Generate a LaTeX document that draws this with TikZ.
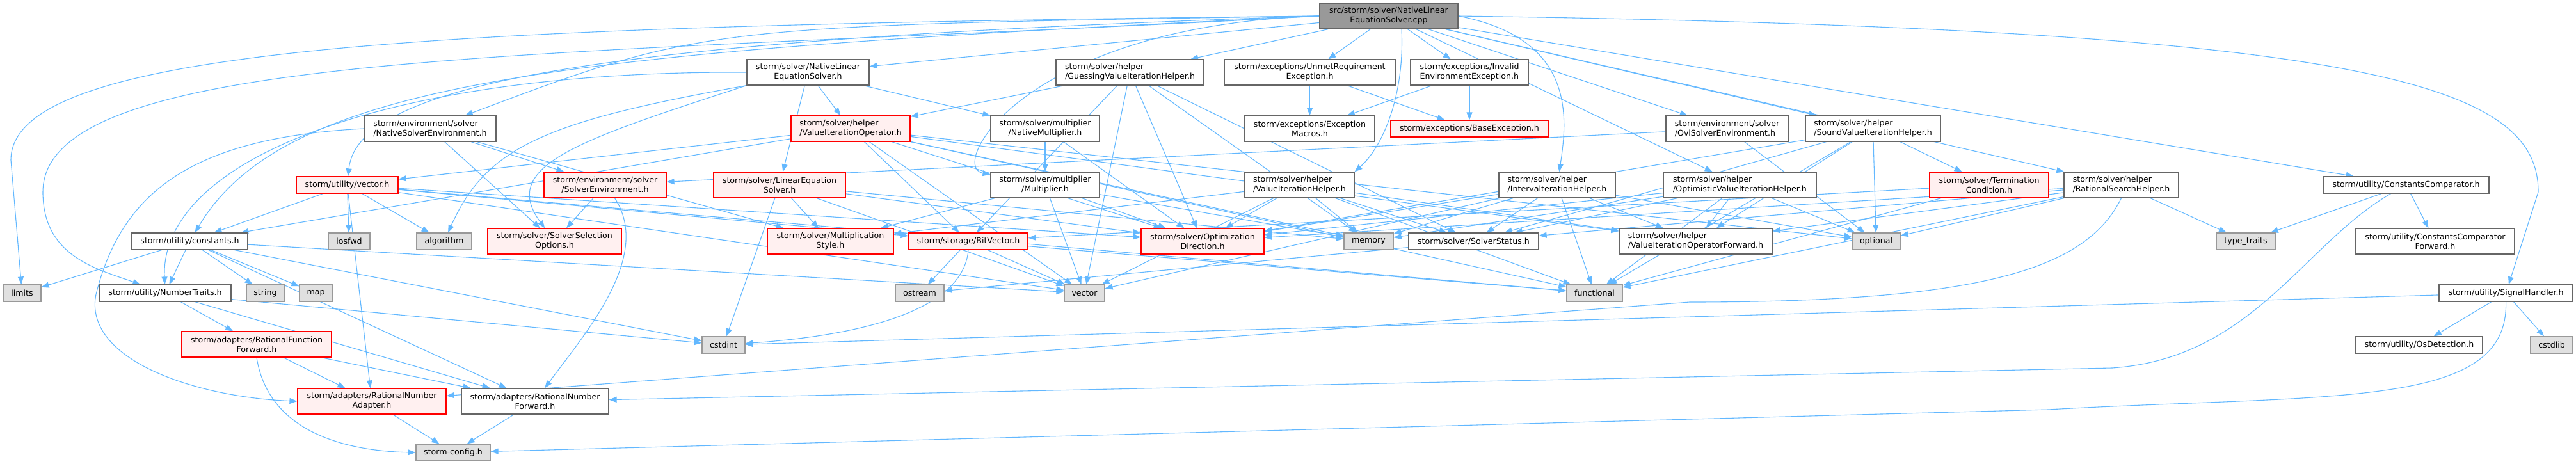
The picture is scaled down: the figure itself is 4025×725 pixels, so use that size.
\documentclass[tikz,border=0pt]{standalone}
\usepackage{fontspec}
\setmainfont{DejaVu Sans}
\usetikzlibrary{arrows.meta,backgrounds}
\definecolor{edgeblue}{HTML}{63B8FF}
\definecolor{boxgrey}{HTML}{666666}
\definecolor{sysborder}{HTML}{999999}
\definecolor{sysfill}{HTML}{E0E0E0}
\definecolor{redfill}{HTML}{FFF0F0}
\definecolor{rootfill}{HTML}{999999}
\newcommand{\doxfont}{\fontsize{12.6pt}{15pt}\selectfont}
\tikzset{
  hfile/.style={rectangle,draw=boxgrey,fill=white,line width=1.2pt,inner sep=0pt,minimum height=26pt,align=center,font=\doxfont},
  hpair/.style={hfile,minimum height=40pt},
  hred/.style={draw=red,fill=redfill},
  hsys/.style={hfile,draw=sysborder,fill=sysfill},
  hroot/.style={hpair,fill=rootfill},
  incl/.style={draw=edgeblue,line width=1.1pt,-{Triangle[length=12pt,width=9pt]}},
}

\begin{document}
\begin{tikzpicture}[x=1pt,y=-1pt]
\useasboundingbox (0,0) rectangle (4025,725);

\node[hroot,minimum width=216pt] (root) at (2170,25) {src/storm/solver/NativeLinear\\EquationSolver.cpp};

\node[hpair,minimum width=191pt] (nles) at (1262.5,113) {storm/solver/NativeLinear\\EquationSolver.h};
\node[hpair,align=left,minimum width=231pt] (guess) at (1765.5,113) {storm/solver/helper\\/GuessingValueIterationHelper.h};
\node[hpair,minimum width=267pt] (unmet) at (2046.5,113) {storm/exceptions/UnmetRequirement\\Exception.h};
\node[hpair,align=left,minimum width=184pt] (invalid) at (2296,113) {storm/exceptions/Invalid\\EnvironmentException.h};

\node[hpair,align=left,minimum width=206pt] (nsenv) at (672,201) {storm/environment/solver\\/NativeSolverEnvironment.h};
\node[hpair,hred,align=left,minimum width=186pt] (vio) at (1329,201) {storm/solver/helper\\/ValueIterationOperator.h};
\node[hpair,minimum width=170pt] (natmult) at (1633,201) {storm/solver/multiplier\\/NativeMultiplier.h};
\node[hpair,minimum width=203pt] (exmacros) at (2046.5,201) {storm/exceptions/Exception\\Macros.h};
\node[hfile,hred,minimum width=246pt] (baseex) at (2296,201) {storm/exceptions/BaseException.h};
\node[hpair,align=left,minimum width=191pt] (ovienv) at (2698.5,201) {storm/environment/solver\\/OviSolverEnvironment.h};
\node[hpair,align=left,minimum width=211pt] (soundvih) at (2926.5,201) {storm/solver/helper\\/SoundValueIterationHelper.h};

\node[hfile,hred,minimum width=159pt] (vech) at (542.5,289) {storm/utility/vector.h};
\node[hpair,hred,minimum width=191pt] (solverenv) at (945.5,289) {storm/environment/solver\\/SolverEnvironment.h};
\node[hpair,hred,minimum width=206pt] (les) at (1218,289) {storm/solver/LinearEquation\\Solver.h};
\node[hpair,minimum width=170pt] (multiplier) at (1633,289) {storm/solver/multiplier\\/Multiplier.h};
\node[hpair,align=left,minimum width=171pt] (vih) at (2030.5,289) {storm/solver/helper\\/ValueIterationHelper.h};
\node[hpair,align=left,minimum width=182pt] (iih) at (2433,289) {storm/solver/helper\\/IntervalterationHelper.h};
\node[hpair,align=left,minimum width=239pt] (optvih) at (2718.5,289) {storm/solver/helper\\/OptimisticValueIterationHelper.h};
\node[hpair,hred,minimum width=186pt] (termcond) at (3108,289) {storm/solver/Termination\\Condition.h};
\node[hpair,align=left,minimum width=179pt] (rsh) at (3314.5,289) {storm/solver/helper\\/RationalSearchHelper.h};
\node[hfile,minimum width=259pt] (ccomp) at (3759.5,289) {storm/utility/ConstantsComparator.h};

\node[hfile,minimum width=181pt] (constants) at (296.5,377) {storm/utility/constants.h};
\node[hsys,minimum width=65pt] (iosfwd) at (545.5,377) {iosfwd};
\node[hsys,minimum width=86pt] (algorithm) at (694,377) {algorithm};
\node[hpair,hred,minimum width=209pt] (sso) at (866.5,377) {storm/solver/SolverSelection\\Options.h};
\node[hpair,hred,minimum width=197pt] (multstyle) at (1297.5,377) {storm/solver/Multiplication\\Style.h};
\node[hfile,hred,minimum width=186pt] (bitvector) at (1513,377) {storm/storage/BitVector.h};
\node[hpair,hred,minimum width=192pt] (optdir) at (1879,377) {storm/solver/Optimization\\Direction.h};
\node[hsys,minimum width=77pt] (memory) at (2138.5,377) {memory};
\node[hfile,minimum width=203pt] (solverstatus) at (2302.5,377) {storm/solver/SolverStatus.h};
\node[hpair,align=left,minimum width=239pt] (viofwd) at (2649.5,377) {storm/solver/helper\\/ValueIterationOperatorForward.h};
\node[hsys,minimum width=75pt] (optional) at (2931.5,377) {optional};
\node[hsys,minimum width=92pt] (typetraits) at (3509,377) {type\_traits};
\node[hpair,minimum width=248pt] (ccfwd) at (3805,377) {storm/utility/ConstantsComparator\\Forward.h};

\node[hsys,minimum width=59pt] (limits) at (34.5,458) {limits};
\node[hfile,minimum width=206pt] (numtraits) at (258,458) {storm/utility/NumberTraits.h};
\node[hsys,minimum width=59pt] (string) at (414.5,458) {string};
\node[hsys,minimum width=51pt] (map) at (493.5,458) {map};
\node[hsys,minimum width=76pt] (ostream) at (1437,458) {ostream};
\node[hsys,minimum width=63pt] (vector) at (1694.5,458) {vector};
\node[hsys,minimum width=87pt] (functional) at (2491.5,458) {functional};
\node[hfile,minimum width=209pt] (signalh) at (3915.5,458) {storm/utility/SignalHandler.h};

\node[hpair,hred,minimum width=234pt] (rfforward) at (401,538) {storm/adapters/RationalFunction\\Forward.h};
\node[hsys,minimum width=67pt] (cstdint) at (1130.5,539) {cstdint};
\node[hfile,minimum width=198pt] (osdetect) at (3780,539) {storm/utility/OsDetection.h};
\node[hsys,minimum width=66pt] (cstdlib) at (3987,539) {cstdlib};

\node[hpair,hred,minimum width=232pt] (rnadapter) at (581,627) {storm/adapters/RationalNumber\\Adapter.h};
\node[hpair,minimum width=230pt] (rnforward) at (836,627) {storm/adapters/RationalNumber\\Forward.h};

\node[hsys,minimum width=116pt] (stormconfig) at (708,707) {storm-config.h};

\begin{scope}[on background layer,every edge/.style={incl}]
\path
(root) edge (nles) edge (guess) edge (unmet) edge (invalid)
       edge (ovienv) edge (soundvih) edge (optvih) edge (rsh) edge (ccomp)

(nles) edge (les) edge (natmult) edge (vio)

(guess) edge (vio) edge (bitvector) edge (optdir) edge (vector)
        edge (solverstatus) edge (memory)

(unmet) edge (exmacros) edge (baseex)
(invalid) edge (exmacros) edge (baseex)

(nsenv) edge (solverenv) edge (sso) edge (multstyle)

(vio) edge (vech) edge (constants) edge (bitvector) edge (optdir) edge (viofwd)
      edge (optional) edge (functional) edge (vector) edge (memory)

(natmult) edge (multiplier) edge (optdir)
(multiplier) edge (multstyle) edge (optdir) edge (vector) edge (memory)

(ovienv) edge (solverenv) edge (optional)
(soundvih) edge (viofwd) edge (termcond) edge (optdir) edge (solverstatus)
           edge (optional) edge (functional)

(vih) edge (multstyle) edge (optdir) edge (memory) edge (functional)
      edge (solverstatus) edge (viofwd) edge (vector)
(iih) edge (optdir) edge (solverstatus) edge (memory) edge (functional)
      edge (viofwd) edge (optional) edge (vector)
(optvih) edge (optdir) edge (solverstatus) edge (viofwd) edge (optional)
         edge (functional) edge (memory)
(termcond) edge (bitvector) edge (functional)
(rsh) edge (optdir) edge (solverstatus) edge (viofwd) edge (optional)
      edge (typetraits) edge (functional)
(ccomp) edge (typetraits) edge (ccfwd)

(vech) edge (constants) edge (iosfwd) edge (algorithm) edge (rnadapter)
       edge (bitvector) edge (optdir) edge (functional) edge (vector)
(constants) edge (limits) edge (numtraits) edge (string) edge (map)
            edge (cstdint) edge (rnforward) edge (vector)
(numtraits) edge (rfforward) edge (rnforward) edge (cstdint)
(rfforward) edge (rnadapter) edge (rnforward)
(rnadapter) edge (stormconfig)
(rnforward) edge (stormconfig)

(bitvector) edge (ostream) edge (vector) edge (functional)
(les) edge (multstyle) edge (cstdint) edge (optdir) edge (memory) edge (vector)
(solverenv) edge (sso)
(solverstatus) edge (ostream)
(signalh) edge (osdetect) edge (cstdlib) edge (cstdint);

\draw[incl] (root.west) .. controls (700,40) and (17,70) .. (17,250) -- (limits);
\draw[incl] (root.west) .. controls (900,90) and (67,70) .. (67,300) .. controls (67,400) and (150,420) .. (numtraits);
\draw[incl] (root.west) .. controls (900,80) and (450,120) .. (constants);
\draw[incl] (root.west) .. controls (1000,60) and (560,120) .. (vech);
\draw[incl] (root.west) .. controls (1100,40) .. (nsenv);
\draw[incl] (root.west) .. controls (1600,40) and (1480,260) .. (multiplier);
\draw[incl] (root.east) .. controls (3700,45) and (3966,130) .. (3966,300) -- (signalh);
\draw[incl] ([xshift=20pt]root.south) .. controls (2195,150) and (2160,230) .. (vih.north east);
\draw[incl] (root.east) .. controls (2460,60) and (2450,180) .. (iih);

\draw[incl] (nles.south west) .. controls (900,220) and (780,260) .. (sso);
\draw[incl] (nles.south west) .. controls (850,190) and (760,230) .. (algorithm);
\draw[incl] (nles.west) .. controls (600,110) and (250,250) .. (numtraits);

\draw[incl] (nsenv.west) .. controls (300,215) and (190,300) .. (150,460) .. controls (130,560) and (300,620) .. (rnadapter.west);
\draw[incl] ([xshift=15pt]solverenv.south) .. controls (1020,400) and (915,520) .. (rnforward);
\draw[incl] (rfforward.south) .. controls (420,680) and (550,705) .. (stormconfig.west);
\draw[incl] (bitvector.south) .. controls (1505,490) and (1330,525) .. (cstdint);
\draw[incl] (signalh.south) .. controls (3920,640) and (3650,615) .. (3200,640) -- (stormconfig);
\draw[incl] (ccomp) .. controls (3600,380) and (3520,560) .. (3300,575) -- (rnforward);
\draw[incl] (rsh.south) .. controls (3260,420) and (3100,472) .. (2640,472) -- (rnadapter);
\end{scope}

\end{tikzpicture}
\end{document}
